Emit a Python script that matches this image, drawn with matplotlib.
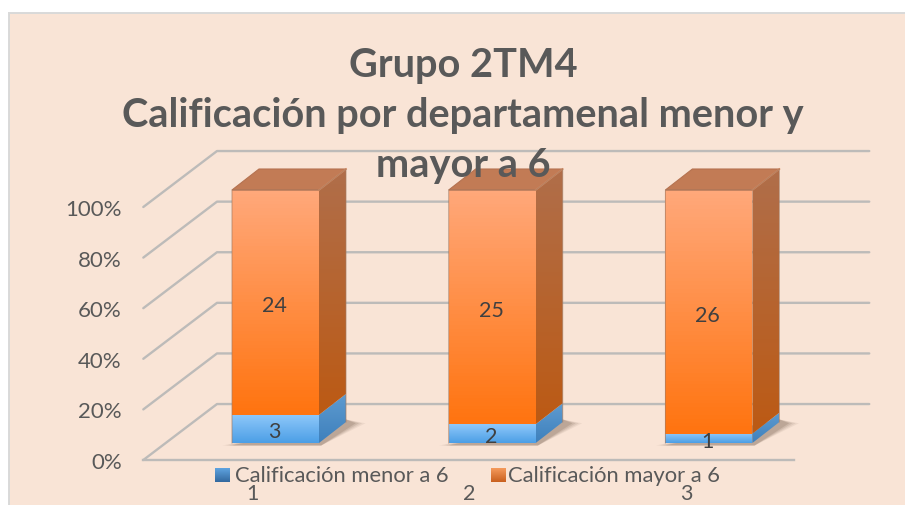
#!/usr/bin/env python3
# stacked 100% bars, faked 3D look like the excel original

import matplotlib
matplotlib.use('Agg')
import matplotlib.pyplot as plt
import numpy as np
from matplotlib.colors import LinearSegmentedColormap
from matplotlib.patches import Polygon, Rectangle

plt.rcParams['font.family'] = ['Lato', 'DejaVu Sans']

#data
categories = ['1', '2', '3']
menor = [3, 2, 1]
mayor = [24, 25, 26]
series_names = ['Calificación menor a 6', 'Calificación mayor a 6']
y_ticks = [0, 20, 40, 60, 80, 100]
title = 'Grupo 2TM4\nCalificación por departamenal menor y\nmayor a 6'

#colors
bg = '#F9E4D6'
txt = '#595959'
grid_c = '#BDBBB9'

W, H = 905, 505
fig = plt.figure(figsize=(W/100, H/100), dpi=100, facecolor='white')

#axes over whole figure: x = category number, y = percent, 0% sits at the bar feet
pitch = 216.7
px_per_pct = 2.53
x0_px, y0_px = 275.5, 443
ax = fig.add_axes([0, 0, 1, 1])
xlim = (-x0_px/pitch, (W-x0_px)/pitch)
ylim = (-(H-y0_px)/px_per_pct, y0_px/px_per_pct)
ax.axis('off')

half_w = 43.5/pitch
dep_x = 27/pitch
dep_y = 21/px_per_pct


def grad_poly(pts, top, bottom, z, y_range=None):
    pts = np.array(pts)
    cmap = LinearSegmentedColormap.from_list('g', [bottom, top])
    lo, hi = y_range if y_range else (pts[:, 1].min(), pts[:, 1].max())
    im = ax.imshow(np.linspace(1, 0, 64)[:, None], cmap=cmap, aspect='auto', vmin=0, vmax=1,
                   extent=[pts[:, 0].min(), pts[:, 0].max(), lo, hi], zorder=z)
    im.set_clip_path(Polygon(pts, transform=ax.transData))


def box(xc, lo, hi, front, side, z):
    l, r = xc-half_w, xc+half_w
    grad_poly([(l, lo), (r, lo), (r, hi), (l, hi)], front[0], front[1], z)
    grad_poly([(r, lo), (r+dep_x, lo+dep_y), (r+dep_x, hi+dep_y), (r, hi)], side[0], side[1], z,
              y_range=(lo, hi+dep_y))


#background panel
ax.add_patch(Rectangle((8.5/pitch+xlim[0], ylim[0]-5), 1000/pitch, ylim[1]-ylim[0]-13/px_per_pct+5,
                       fc=bg, ec='#D9D9D9', lw=1.4, zorder=0))

#walls
back_x0, back_x1 = -0.27, 2.74
front_x0, front_x1 = -0.61, 2.394
front_off, back_off = -6.72, 15.4
for t in y_ticks:
    ax.plot([front_x0, back_x0, back_x1], [t+front_off, t+back_off, t+back_off],
            color=grid_c, lw=1.7, solid_capstyle='round', solid_joinstyle='round', zorder=1)
ax.plot([front_x0, front_x1], [front_off, front_off], color=grid_c, lw=1.7, zorder=1)

#bars
x = np.arange(len(categories))
totals = np.array(menor) + np.array(mayor)
share_menor = np.array(menor)/totals*100
share_mayor = np.array(mayor)/totals*100
for xc, a, b in zip(x, share_menor, share_mayor):
    l, r = xc-half_w, xc+half_w
    #soft shadow on the floor
    for grow, alpha in zip([0.045, 0.03, 0.015, 0.0], [0.07, 0.09, 0.12, 0.15]):
        ax.add_patch(Polygon([(l-grow, -1.0), (r+0.01, -1.0), (r+dep_x+grow+0.045, dep_y-0.5),
                              (r+dep_x, dep_y+1)], fc='#5A4030', ec='none', alpha=alpha, zorder=2))
    box(xc, 0, a, ('#8FC8FA', '#4C9FE6'), ('#5E9BD0', '#3E80BC'), 3)
    box(xc, a, 100, ('#FFA87A', '#FF7410'), ('#B06E4A', '#BC5A14'), 3)
    #top of the bar
    ax.add_patch(Polygon([(l, 100), (r, 100), (r+dep_x, 100+dep_y), (l+dep_x, 100+dep_y)],
                         fc='#C27B55', ec='#B57250', lw=0.8, zorder=4))
    ax.plot([r, r+dep_x], [100, 100+dep_y], color='#D58A60', lw=1.2, zorder=4)
    #edges
    ax.plot([l, l, r, r+dep_x, r+dep_x], [0, 100, 100, 100+dep_y, dep_y], color='#A57C63', lw=0.7, alpha=0.7, zorder=4)

    ax.text(xc-0.005, a/2-1.3, menor[xc], ha='center', va='center',
            fontsize=15.5, color='#404040', zorder=6)
    ax.text(xc-0.005, a+b/2-1.5, mayor[xc], ha='center', va='center',
            fontsize=15.5, color='#404040', zorder=6)

ax.set_xlim(xlim)
ax.set_ylim(ylim)

#tick labels
for t in y_ticks:
    ax.text(-0.71, t-7.9, f'{t}%', ha='right', va='center', fontsize=16, color=txt, zorder=6)
for xc, c in zip(x, categories):
    ax.text(xc-0.105, -20, c, ha='center', va='center', fontsize=15.5, color=txt, zorder=6)

#title on top of everything, it does overlap the bars in the original
ax.text((463-x0_px)/pitch, (y0_px-115.5)/px_per_pct, title, ha='center', va='center', fontsize=28.6,
        fontweight='bold', color=txt, linespacing=1.43, zorder=7)

#legend
for sx, name, col, tx in zip([215, 491], series_names, [('#5FA3E0', '#33699F'), ('#F59A5C', '#C9601E')], [235, 508]):
    grad_poly([((sx-x0_px)/pitch, (y0_px-482)/px_per_pct), ((sx+15-x0_px)/pitch, (y0_px-482)/px_per_pct),
               ((sx+15-x0_px)/pitch, (y0_px-468)/px_per_pct), ((sx-x0_px)/pitch, (y0_px-468)/px_per_pct)],
              col[0], col[1], 6)
    ax.text((tx-x0_px)/pitch, (y0_px-476)/px_per_pct, name, ha='left', va='center',
            fontsize=15.8, color=txt, zorder=6)

ax.set_xlim(xlim)
ax.set_ylim(ylim)

fig.savefig('out.png', dpi=100)
